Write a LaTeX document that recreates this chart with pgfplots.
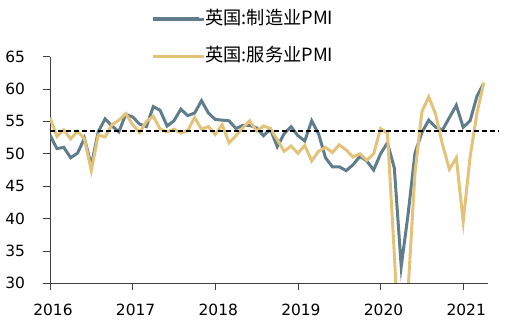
\documentclass[border=0pt]{standalone}
\usepackage{fontspec}
\setmainfont{Noto Sans CJK SC}
\newfontfamily\tickfont{DejaVu Sans}
\usepackage{pgfplots}
\pgfplotsset{compat=1.18}
\definecolor{mfg}{RGB}{96,125,139}
\definecolor{svc}{RGB}{227,195,122}
\begin{document}
\begin{tikzpicture}
\path[use as bounding box] (-50bp,-42.7bp) rectangle (463bp,283.3bp);
\begin{axis}[
  at={(0,0)}, anchor=south west,
  scale only axis, width=449bp, height=226.6bp,
  xmin=0, xmax=65.2, ymin=30, ymax=65,
  axis x line=bottom, axis y line=left,
  x axis line style={draw=none},
  y axis line style={-, draw=black!75, line width=0.8bp},
  xtick={0,12,24,36,48,60},
  xticklabels={2016,2017,2018,2019,2020,2021},
  ytick={30,35,40,45,50,55,60,65},
  tick align=outside, major tick length=6.5bp,
  tick style={draw=black!75, line width=0.8bp},
  /pgf/number format/assume math mode=true,
  ticklabel style={font=\tickfont\fontsize{15.5}{16}\selectfont},
  yticklabel style={xshift=-15bp},
  xticklabel style={yshift=-11bp, xshift=3bp},
  legend style={at={(0.2250,1.083)}, anchor=west, draw=none, fill=none,
    inner sep=0pt, outer sep=0pt, row sep=20.4bp, column sep=0pt,
    nodes={inner sep=0pt, text height=13.6bp, text depth=3.6bp, font=\fontsize{18.3}{19}\selectfont},
    legend cell align=left},
  legend image code/.code={\draw[#1, line width=3.6bp] (0bp,0bp) -- (46bp,0bp); \path (0bp,0bp) -- (51bp,0bp);},
]
\addplot[mfg, line width=3bp] coordinates {
(0,52.9)(1,50.8)(2,51.0)(3,49.4)(4,50.1)(5,52.4)(6,48.2)(7,53.4)(8,55.4)(9,54.3)(10,53.4)(11,56.1)
(12,55.7)(13,54.6)(14,54.2)(15,57.3)(16,56.7)(17,54.3)(18,55.1)(19,56.9)(20,55.9)(21,56.3)(22,58.2)(23,56.3)
(24,55.3)(25,55.2)(26,55.1)(27,53.9)(28,54.4)(29,54.4)(30,54.0)(31,52.8)(32,53.8)(33,51.1)(34,53.1)(35,54.2)
(36,52.8)(37,52.0)(38,55.1)(39,53.1)(40,49.4)(41,48.0)(42,48.0)(43,47.4)(44,48.3)(45,49.6)(46,48.9)(47,47.5)
(48,50.0)(49,51.7)(50,47.8)(51,32.6)(52,40.7)(53,50.1)(54,53.3)(55,55.2)(56,54.1)(57,53.7)(58,55.6)(59,57.5)
(60,54.1)(61,55.1)(62,58.9)(63,60.9)};
\addlegendentry{英国:制造业PMI}
\addplot[svc, line width=3bp] coordinates {
(0,55.6)(1,52.7)(2,53.7)(3,52.3)(4,53.5)(5,52.3)(6,47.4)(7,52.9)(8,52.6)(9,54.5)(10,55.2)(11,56.2)
(12,54.5)(13,53.3)(14,55.0)(15,55.8)(16,53.8)(17,53.4)(18,53.8)(19,53.2)(20,53.6)(21,55.6)(22,53.8)(23,54.2)
(24,53.0)(25,54.5)(26,51.7)(27,52.8)(28,54.0)(29,55.1)(30,53.5)(31,54.3)(32,53.9)(33,52.2)(34,50.4)(35,51.2)
(36,50.1)(37,51.3)(38,48.9)(39,50.4)(40,51.0)(41,50.2)(42,51.4)(43,50.6)(44,49.5)(45,50.0)(46,49.0)(47,50.0)
(48,53.9)(49,53.2)(50,34.5)(51,13.4)(52,29.0)(53,47.1)(54,56.5)(55,58.8)(56,56.1)(57,51.4)(58,47.6)(59,49.4)
(60,39.5)(61,49.5)(62,56.3)(63,61.0)};
\addlegendentry{英国:服务业PMI}
\addplot[black, line width=1.6bp, dash pattern=on 5bp off 3bp, forget plot] coordinates {(0,53.5)(65.2,53.5)};
\draw[black!75, line width=0.8bp] (axis cs:0,30) -- (axis cs:63.6,30);
\end{axis}
\end{tikzpicture}
\end{document}
